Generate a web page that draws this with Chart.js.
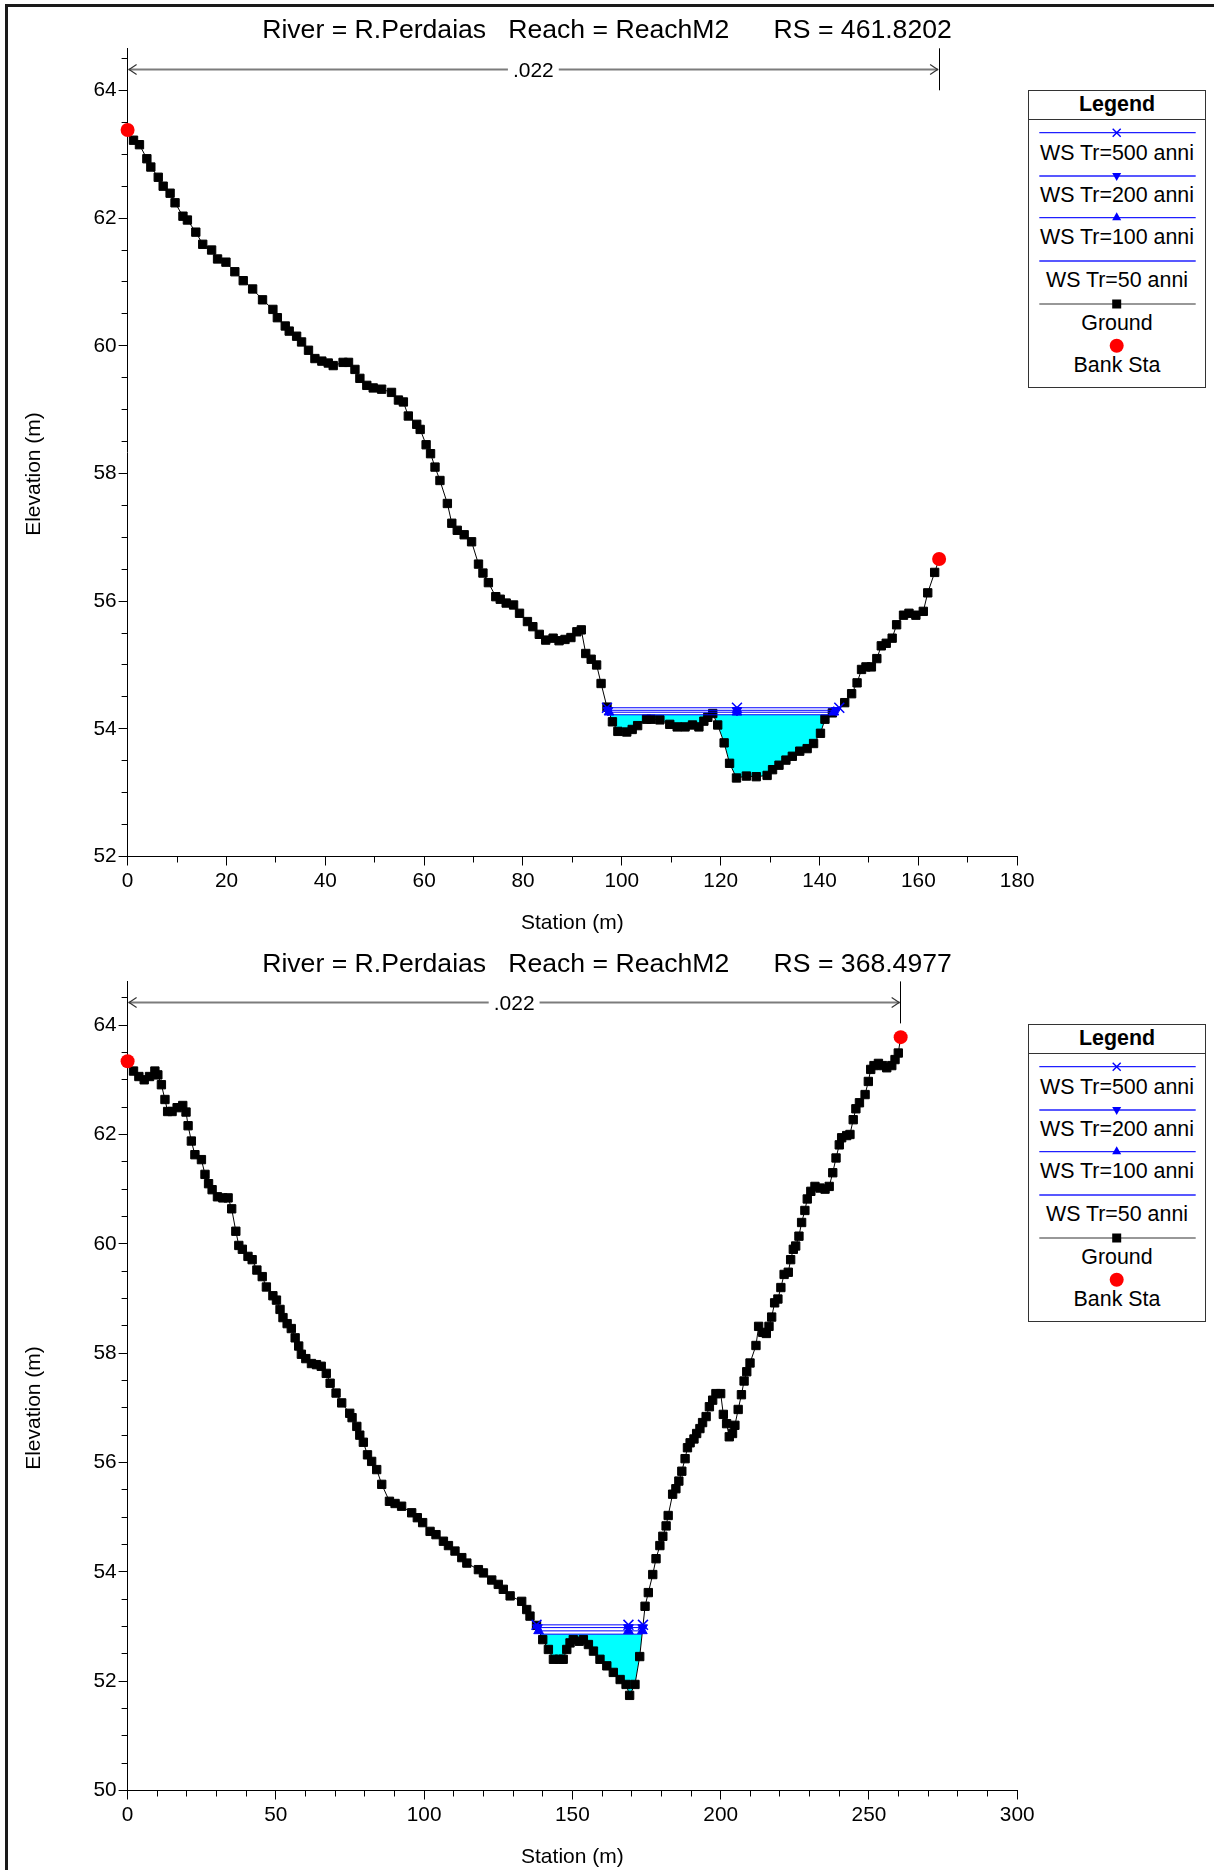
<!DOCTYPE html>
<html lang="it">
<head>
<meta charset="utf-8">
<title>R.Perdaias cross sections</title>
<script src="https://cdn.jsdelivr.net/npm/chart.js@4.4.1/dist/chart.umd.min.js"></script>
<style>
html,body{margin:0;padding:0;background:#fff;}
body{width:1214px;height:1870px;position:relative;overflow:hidden;font-family:"Liberation Sans",Arial,Helvetica,sans-serif;color:#000;}
.frame-top{position:absolute;left:5px;top:4px;width:1209px;height:3px;background:#1a1a1a;z-index:5;}
.frame-left{position:absolute;left:5px;top:4px;width:3px;height:1866px;background:#1a1a1a;z-index:5;}
.panel{position:absolute;left:0;width:1214px;height:934px;}
.panel canvas{position:absolute;left:0;top:0;}
.title{position:absolute;left:0;top:14px;width:1214px;text-align:center;font-size:26.6px;line-height:30px;white-space:pre;}
.xtitle{position:absolute;left:127.6px;width:889.6px;top:908.5px;text-align:center;font-size:21px;line-height:26px;white-space:pre;}
.ytitle{position:absolute;left:-67.5px;top:461px;width:200px;height:26px;text-align:center;font-size:21px;line-height:26px;transform:rotate(-90deg);white-space:pre;}
.legend{position:absolute;left:1028px;top:90px;width:176px;height:296px;border:1px solid #333;background:#fff;}
.legend .lt{position:absolute;left:0;width:176px;height:26px;line-height:26px;text-align:center;font-size:21.4px;white-space:pre;}
.legend .lh{font-weight:bold;}
</style>
</head>
<body>
<div class="frame-top"></div>
<div class="frame-left"></div>

<div class="panel" style="top:0px">
  <canvas id="chart1" width="1214" height="934"></canvas>
  <div class="title" id="title1"></div>
  <div class="ytitle" id="ytitle1"></div>
  <div class="xtitle" id="xtitle1"></div>
  <div class="legend" id="legend1"></div>
</div>
<div class="panel" style="top:934px">
  <canvas id="chart2" width="1214" height="934"></canvas>
  <div class="title" id="title2"></div>
  <div class="ytitle" id="ytitle2"></div>
  <div class="xtitle" id="xtitle2"></div>
  <div class="legend" id="legend2"></div>
</div>

<script>
// ---------------- shared labels ----------------
const legendLabels = ['WS Tr=500 anni', 'WS Tr=200 anni', 'WS Tr=100 anni', 'WS Tr=50 anni', 'Ground', 'Bank Sta'];
const xAxisTitle = 'Station (m)';
const yAxisTitle = 'Elevation (m)';

// ---------------- cross section RS = 461.8202 ----------------
const topTitle = 'River = R.Perdaias   Reach = ReachM2      RS = 461.8202';
const topStation = [
  0, 1.2, 2.4, 3.9, 4.7, 6.2, 7.2, 8.6, 9.6, 11.2,
  12.1, 13.8, 15.2, 17.0, 18.2, 19.9, 21.7, 23.4, 25.3, 27.3,
  29.4, 30.3, 31.9, 32.7, 34.2, 35.2, 36.6, 37.9, 39.3, 40.6,
  41.6, 43.6, 44.7, 46.0, 47.0, 48.4, 49.7, 51.4, 53.4, 54.8,
  55.8, 56.8, 58.5, 59.2, 60.4, 61.3, 62.2, 63.2, 64.7, 65.6,
  66.7, 68.1, 69.6, 71.0, 71.9, 73.0, 74.5, 75.4, 76.6, 78.1,
  79.3, 80.9, 82.0, 83.3, 84.6, 86.1, 87.3, 88.5, 89.7, 90.9,
  91.8, 92.7, 93.8, 94.9, 95.8, 97.0, 98.1, 99.2, 101.0, 102.1,
  103.2, 105.0, 105.9, 107.7, 109.7, 111.2, 112.8, 114.3, 115.6, 116.6,
  117.4, 118.4, 119.4, 120.7, 121.8, 123.2, 125.2, 127.2, 129.4, 130.5,
  131.8, 133.2, 134.5, 136.0, 137.5, 138.8, 140.2, 141.1, 142.6, 145.1,
  146.5, 147.6, 148.5, 149.4, 150.5, 151.6, 152.5, 153.5, 154.7, 155.6,
  157.0, 158.1, 159.5, 161.0, 161.9, 163.3, 164.2
];
const topElevation = [
  63.38, 63.22, 63.15, 62.93, 62.80, 62.64, 62.50, 62.39, 62.24, 62.03,
  61.97, 61.78, 61.59, 61.50, 61.36, 61.31, 61.16, 61.02, 60.89, 60.72,
  60.57, 60.44, 60.31, 60.23, 60.15, 60.06, 59.93, 59.80, 59.76, 59.73,
  59.69, 59.74, 59.74, 59.63, 59.49, 59.38, 59.34, 59.32, 59.27, 59.15,
  59.12, 58.90, 58.77, 58.69, 58.45, 58.31, 58.10, 57.89, 57.53, 57.22,
  57.11, 57.04, 56.93, 56.58, 56.44, 56.29, 56.07, 56.03, 55.97, 55.94,
  55.81, 55.68, 55.60, 55.48, 55.39, 55.42, 55.38, 55.40, 55.43, 55.52,
  55.55, 55.18, 55.09, 55.00, 54.71, 54.34, 54.11, 53.96, 53.95, 53.99,
  54.05, 54.15, 54.15, 54.14, 54.07, 54.03, 54.03, 54.06, 54.03, 54.12,
  54.18, 54.24, 54.06, 53.78, 53.46, 53.23, 53.26, 53.25, 53.27, 53.36,
  53.43, 53.51, 53.57, 53.65, 53.69, 53.77, 53.93, 54.15, 54.25, 54.41,
  54.55, 54.72, 54.93, 54.97, 54.97, 55.10, 55.30, 55.34, 55.42, 55.63,
  55.78, 55.81, 55.78, 55.84, 56.13, 56.45, 56.66
];
const topBankStation = [0, 164.2];
const topBankElevation = [63.38, 56.66];
const topWs500Station = [97.0, 123.3, 144.0];
const topWs200Station = [97.2, 123.3, 143.4];
const topWs100Station = [97.4, 123.3, 142.9];
const topWs50Station = [97.6, 142.2];
const topWsLevels = [54.33, 54.29, 54.26, 54.22]; // Tr 500, 200, 100, 50
const topXTicks = [0, 20, 40, 60, 80, 100, 120, 140, 160, 180];
const topYTicks = [52, 54, 56, 58, 60, 62, 64];
const topNValue = '.022';

// ---------------- cross section RS = 368.4977 ----------------
const bottomTitle = 'River = R.Perdaias   Reach = ReachM2      RS = 368.4977';
const bottomStation = [
  0, 2.0, 3.8, 5.6, 7.4, 9.2, 10.2, 11.4, 12.6, 13.5,
  15.0, 16.7, 18.6, 19.7, 20.4, 21.5, 22.7, 24.9, 26.1, 27.3,
  28.5, 30.3, 32.1, 33.9, 35.1, 36.5, 37.5, 38.7, 40.6, 42.0,
  43.6, 45.4, 46.8, 49.0, 50.2, 51.4, 52.4, 53.8, 55.2, 56.5,
  57.7, 58.6, 60.1, 62.0, 63.7, 65.3, 67.0, 68.3, 70.3, 72.2,
  74.9, 75.7, 77.3, 78.3, 79.5, 80.9, 82.3, 84.0, 85.7, 88.3,
  90.2, 92.4, 95.8, 97.7, 99.5, 102.0, 104.0, 106.5, 108.2, 110.4,
  112.7, 114.4, 118.3, 120.0, 122.8, 125.0, 126.7, 129.0, 132.9, 134.6,
  135.7, 137.9, 140.0, 141.9, 143.6, 145.6, 146.9, 148.1, 149.2, 150.3,
  152.3, 153.7, 155.4, 157.1, 159.3, 161.6, 163.8, 166.1, 168.1, 169.3,
  171.1, 172.7, 174.5, 175.6, 177.1, 178.2, 179.5, 180.5, 181.6, 182.3,
  183.8, 184.9, 185.9, 186.9, 188.0, 188.8, 189.7, 191.0, 191.9, 193.0,
  193.9, 195.1, 196.2, 197.3, 198.4, 200.0, 200.9, 202.0, 202.9, 204.0,
  204.8, 205.9, 207.0, 207.9, 208.8, 209.9, 211.9, 212.8, 214.2, 215.4,
  216.3, 217.2, 218.2, 219.3, 220.3, 221.4, 222.8, 223.6, 224.5, 225.3,
  226.4, 227.3, 228.4, 229.2, 230.4, 231.8, 233.5, 235.2, 236.6, 237.8,
  238.9, 240.0, 240.8, 242.5, 243.6, 244.7, 245.6, 246.8, 248.7, 249.8,
  250.6, 251.7, 253.2, 254.6, 256.0, 257.7, 258.8, 259.9, 260.7
];
const bottomElevation = [
  63.34, 63.16, 63.06, 63.00, 63.06, 63.16, 63.09, 62.91, 62.64, 62.42,
  62.42, 62.49, 62.53, 62.41, 62.16, 61.88, 61.63, 61.54, 61.27, 61.10,
  60.99, 60.86, 60.84, 60.84, 60.64, 60.23, 59.97, 59.90, 59.77, 59.71,
  59.52, 59.40, 59.21, 59.05, 58.97, 58.80, 58.65, 58.54, 58.45, 58.28,
  58.13, 57.98, 57.90, 57.81, 57.79, 57.76, 57.63, 57.45, 57.27, 57.09,
  56.90, 56.82, 56.66, 56.50, 56.37, 56.14, 56.02, 55.87, 55.60, 55.29,
  55.25, 55.20, 55.08, 54.99, 54.90, 54.74, 54.68, 54.56, 54.48, 54.38,
  54.26, 54.16, 54.04, 53.98, 53.85, 53.77, 53.68, 53.56, 53.46, 53.31,
  53.19, 53.02, 52.76, 52.58, 52.40, 52.40, 52.40, 52.58, 52.70, 52.76,
  52.73, 52.76, 52.67, 52.55, 52.40, 52.28, 52.16, 52.03, 51.94, 51.74,
  51.94, 52.45, 53.37, 53.62, 53.95, 54.24, 54.48, 54.65, 54.84, 55.03,
  55.42, 55.52, 55.66, 55.84, 56.07, 56.27, 56.36, 56.43, 56.53, 56.62,
  56.73, 56.84, 57.02, 57.14, 57.26, 57.26, 56.88, 56.71, 56.47, 56.53,
  56.68, 56.97, 57.24, 57.49, 57.66, 57.82, 58.14, 58.49, 58.38, 58.36,
  58.49, 58.66, 58.92, 58.99, 59.20, 59.44, 59.48, 59.71, 59.90, 59.96,
  60.14, 60.39, 60.61, 60.82, 60.96, 61.05, 61.02, 61.00, 61.05, 61.30,
  61.57, 61.81, 61.94, 61.98, 62.00, 62.27, 62.47, 62.58, 62.73, 62.97,
  63.19, 63.26, 63.30, 63.26, 63.22, 63.26, 63.37, 63.49, 63.78
];
const bottomBankStation = [0, 260.7];
const bottomBankElevation = [63.34, 63.78];
const bottomWs500Station = [137.9, 168.9, 173.8];
const bottomWs200Station = [138.2, 168.9, 173.7];
const bottomWs100Station = [138.6, 168.9, 173.6];
const bottomWs50Station = [139.1, 173.5];
const bottomWsLevels = [53.03, 52.98, 52.92, 52.86]; // Tr 500, 200, 100, 50
const bottomXTicks = [0, 50, 100, 150, 200, 250, 300];
const bottomYTicks = [50, 52, 54, 56, 58, 60, 62, 64];
const bottomNValue = '.022';

// ---------------- drawing ----------------
const FONT = '"Liberation Sans", Arial, Helvetica, sans-serif';
Chart.defaults.font.family = FONT;
Chart.defaults.color = '#000';

const nValuePlugin = {
  id: 'nValue',
  afterDraw(chart, args, o) {
    const {ctx, chartArea: a} = chart;
    const xs = chart.scales.x;
    const xl = xs.getPixelForValue(o.left);
    const xr = xs.getPixelForValue(o.right);
    const y = Math.round(a.top + 21) + 0.5;
    const xm = (xl + xr) / 2;
    ctx.save();
    ctx.font = '21px ' + FONT;
    const tw = ctx.measureText(o.label).width;
    ctx.strokeStyle = '#7c7c7c';
    ctx.lineWidth = 2;
    ctx.beginPath();
    ctx.moveTo(xl + 1, y); ctx.lineTo(xm - tw / 2 - 5, y);
    ctx.moveTo(xm + tw / 2 + 5, y); ctx.lineTo(xr - 1, y);
    ctx.stroke();
    ctx.strokeStyle = '#333';
    ctx.lineWidth = 1.2;
    ctx.beginPath();
    ctx.moveTo(xl + 9, y - 5); ctx.lineTo(xl + 1.5, y); ctx.lineTo(xl + 9, y + 5);
    ctx.moveTo(xr - 9, y - 5); ctx.lineTo(xr - 1.5, y); ctx.lineTo(xr - 9, y + 5);
    ctx.stroke();
    ctx.strokeStyle = '#000';
    ctx.lineWidth = 1;
    const xt = Math.round(xr - 0.5) + 0.5;
    ctx.beginPath();
    ctx.moveTo(xt, a.top); ctx.lineTo(xt, a.top + 42);
    ctx.stroke();
    ctx.fillStyle = '#000';
    ctx.textAlign = 'center';
    ctx.textBaseline = 'middle';
    ctx.fillText(o.label, xm, y + 2);
    ctx.restore();
  }
};

const minorTickPlugin = {
  id: 'minorTicks',
  afterDraw(chart, args, o) {
    const {ctx, chartArea: a} = chart;
    const xs = chart.scales.x, ys = chart.scales.y;
    ctx.save();
    ctx.strokeStyle = '#000';
    ctx.lineWidth = 1;
    ctx.beginPath();
    const nx = Math.floor((xs.max - xs.min) / o.xStep + 1e-6);
    for (let i = 0; i <= nx; i++) {
      const px = Math.round(xs.getPixelForValue(xs.min + i * o.xStep) - 0.5) + 0.5;
      ctx.moveTo(px, a.bottom); ctx.lineTo(px, a.bottom + o.len);
    }
    const ny = Math.floor((ys.max - ys.min) / o.yStep + 1e-6);
    for (let i = 0; i <= ny; i++) {
      const py = Math.round(ys.getPixelForValue(ys.min + i * o.yStep) - 0.5) + 0.5;
      ctx.moveTo(a.left - o.len, py); ctx.lineTo(a.left, py);
    }
    ctx.stroke();
    ctx.restore();
  }
};

function pts(xs, ys) { return xs.map((x, i) => ({x: x, y: ys[i]})); }
function level(xs, v) { return xs.map(x => ({x: x, y: v})); }

function axis(min, max, ticks, fit, pad) {
  return {
    type: 'linear', bounds: 'data', min: min, max: max,
    afterBuildTicks: s => { s.ticks = ticks.map(v => ({value: v})); },
    afterFit: fit,
    grid: {display: true, drawOnChartArea: false, drawTicks: true, tickLength: 9, color: '#000', tickColor: '#000', tickWidth: 1},
    border: {display: true, color: '#000', width: 1},
    ticks: {autoSkip: false, maxRotation: 0, minRotation: 0, padding: pad, color: '#000',
            font: {size: 20.8, family: FONT}, callback: v => String(v)}
  };
}

function buildChart(id, d) {
  const blue = '#0000ff';
  return new Chart(document.getElementById(id), {
    type: 'line',
    data: {
      datasets: [
        {label: legendLabels[4], data: pts(d.station, d.elevation), borderColor: '#000', borderWidth: 1,
         pointStyle: 'rect', pointRadius: 5.9, pointBackgroundColor: '#000', pointBorderColor: '#000',
         pointBorderWidth: 1, tension: 0, fill: false, order: 5, clip: false},
        {label: legendLabels[5], data: pts(d.bankStation, d.bankElevation), showLine: false,
         pointStyle: 'circle', pointRadius: 7, pointBackgroundColor: '#ff0000', pointBorderColor: '#ff0000',
         pointBorderWidth: 0, fill: false, order: 0, clip: false},
        {label: legendLabels[0], data: level(d.ws500Station, d.wsLevels[0]), borderColor: blue, borderWidth: 1,
         pointStyle: 'crossRot', pointRadius: 7, pointBorderColor: blue, pointBackgroundColor: blue,
         pointBorderWidth: 1.5, fill: false, order: 1, clip: false},
        {label: legendLabels[1], data: level(d.ws200Station, d.wsLevels[1]), borderColor: blue, borderWidth: 1,
         pointStyle: 'triangle', pointRotation: 180, pointRadius: 5.6, pointBorderColor: blue,
         pointBackgroundColor: blue, pointBorderWidth: 1, fill: false, order: 2, clip: false},
        {label: legendLabels[2], data: level(d.ws100Station, d.wsLevels[2]), borderColor: blue, borderWidth: 1,
         pointStyle: 'triangle', pointRadius: 5.6, pointBorderColor: blue,
         pointBackgroundColor: blue, pointBorderWidth: 1, fill: false, order: 3, clip: false},
        {label: legendLabels[3], data: level(d.ws50Station, d.wsLevels[3]), borderColor: blue, borderWidth: 1,
         pointRadius: 0, order: 4, clip: false,
         fill: {target: 0, above: '#00ffff', below: 'rgba(0,0,0,0)'}}
      ]
    },
    options: {
      responsive: false, animation: false, devicePixelRatio: 1, events: [],
      layout: {padding: {top: d.areaTop, right: 196.8, bottom: 0, left: 0}},
      plugins: {
        legend: {display: false}, tooltip: {enabled: false}, title: {display: false},
        filler: {drawTime: 'beforeDatasetsDraw'},
        nValue: {left: d.bankStation[0], right: d.bankStation[1], label: d.nValue},
        minorTicks: {xStep: d.xMinor, yStep: 0.5, len: 6}
      },
      scales: {
        x: axis(d.xTicks[0], d.xTicks[d.xTicks.length - 1], d.xTicks, s => { s.height = 77.5; }, 3),
        y: axis(d.yTicks[0], d.yMax, d.yTicks, s => { s.width = 127.6; }, 2)
      }
    },
    plugins: [nValuePlugin, minorTickPlugin]
  });
}

function buildLegend(el) {
  const lineY = [41.7, 85, 126.7, 170, 213];
  const textY = [61.7, 104, 145.7, 189, 231.7, 274];
  const mx = 87.7;
  let svg = '<svg width="176" height="296" style="position:absolute;left:0;top:0" xmlns="http://www.w3.org/2000/svg">';
  svg += '<line x1="0" y1="28.5" x2="176" y2="28.5" stroke="#333" stroke-width="1"/>';
  for (let i = 0; i < 4; i++) {
    svg += '<line x1="10.3" y1="' + lineY[i] + '" x2="166.7" y2="' + lineY[i] + '" stroke="#2020ff" stroke-width="1.3"/>';
  }
  svg += '<path d="M' + (mx - 4) + ' ' + (lineY[0] - 4) + ' L' + (mx + 4) + ' ' + (lineY[0] + 4) +
         ' M' + (mx + 4) + ' ' + (lineY[0] - 4) + ' L' + (mx - 4) + ' ' + (lineY[0] + 4) + '" stroke="#0000ff" stroke-width="1.4" fill="none"/>';
  svg += '<polygon points="' + (mx - 4.5) + ',' + (lineY[1] - 3) + ' ' + (mx + 4.5) + ',' + (lineY[1] - 3) + ' ' + mx + ',' + (lineY[1] + 5) + '" fill="#0000ff"/>';
  svg += '<polygon points="' + mx + ',' + (lineY[2] - 5.5) + ' ' + (mx - 4.5) + ',' + (lineY[2] + 2.5) + ' ' + (mx + 4.5) + ',' + (lineY[2] + 2.5) + '" fill="#0000ff"/>';
  svg += '<line x1="10.3" y1="' + lineY[4] + '" x2="166.7" y2="' + lineY[4] + '" stroke="#333" stroke-width="1.2"/>';
  svg += '<rect x="' + (mx - 4.5) + '" y="' + (lineY[4] - 4.5) + '" width="9" height="9" fill="#000"/>';
  svg += '<circle cx="' + mx + '" cy="254.7" r="7" fill="#ff0000"/>';
  svg += '</svg>';
  let html = svg + '<div class="lt lh" style="top:-0.5px">Legend</div>';
  legendLabels.forEach((t, i) => {
    html += '<div class="lt" style="top:' + (textY[i] - 13) + 'px">' + t + '</div>';
  });
  el.innerHTML = html;
}

document.getElementById('title1').textContent = topTitle;
document.getElementById('title2').textContent = bottomTitle;
['1', '2'].forEach(k => {
  document.getElementById('xtitle' + k).textContent = xAxisTitle;
  document.getElementById('ytitle' + k).textContent = yAxisTitle;
  buildLegend(document.getElementById('legend' + k));
});

buildChart('chart1', {
  station: topStation, elevation: topElevation,
  bankStation: topBankStation, bankElevation: topBankElevation,
  ws500Station: topWs500Station, ws200Station: topWs200Station,
  ws100Station: topWs100Station, ws50Station: topWs50Station, wsLevels: topWsLevels,
  xTicks: topXTicks, yTicks: topYTicks, yMax: 64.66, xMinor: 10,
  areaTop: 48.3, nValue: topNValue
});
buildChart('chart2', {
  station: bottomStation, elevation: bottomElevation,
  bankStation: bottomBankStation, bankElevation: bottomBankElevation,
  ws500Station: bottomWs500Station, ws200Station: bottomWs200Station,
  ws100Station: bottomWs100Station, ws50Station: bottomWs50Station, wsLevels: bottomWsLevels,
  xTicks: bottomXTicks, yTicks: bottomYTicks, yMax: 64.80, xMinor: 10,
  areaTop: 47.4, nValue: bottomNValue
});
</script>
</body>
</html>
